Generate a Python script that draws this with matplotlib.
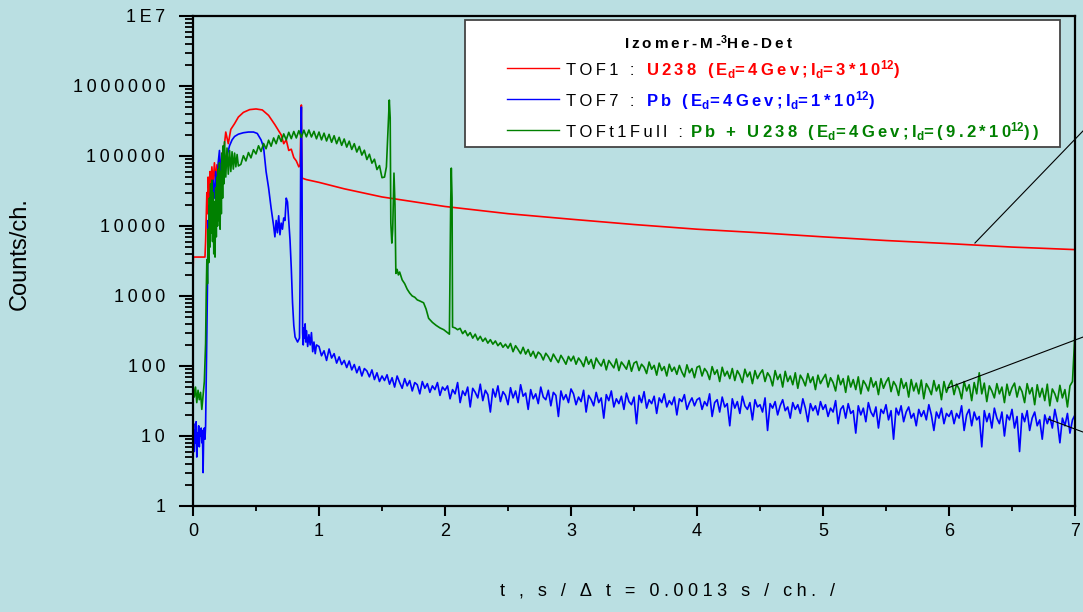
import numpy as np
import matplotlib
matplotlib.use("Agg")
import matplotlib.pyplot as plt
from matplotlib import font_manager
from matplotlib.ft2font import FT2Font
from matplotlib.patches import Rectangle
from matplotlib.ticker import FixedLocator, LogLocator, MultipleLocator, FuncFormatter, NullFormatter

# global formatting
plt.rcParams['font.family'] = ['Liberation Sans', 'DejaVu Sans']
plt.rcParams['mathtext.default'] = 'regular'

BG = '#badfe2'
RED = '#ff0000'
BLUE = '#0000ff'
GREEN = '#008000'

# Origin draws its text letter-spaced: use a thin space between characters if the font has one
_cmap = FT2Font(font_manager.findfont('Liberation Sans')).get_charmap()
GAP = '\u2009' if 0x2009 in _cmap else ''
WIDE = '\u2005' if 0x2005 in _cmap else GAP


def spaced(s, gap=GAP):
    parts = s.split('$')
    for i in range(0, len(parts), 2):
        parts[i] = gap.join(parts[i])
    return '$'.join(parts)


# ---- data ----
# TOF1 : U238
red_t = [0.0, 0.003, 0.095, 0.10, 0.11, 0.115, 0.12, 0.13, 0.135, 0.14,
         0.15, 0.16, 0.17, 0.18, 0.19, 0.20, 0.21, 0.22, 0.23, 0.24,
         0.26, 0.28, 0.30, 0.33, 0.36, 0.40, 0.45, 0.50, 0.55, 0.60, 0.65, 0.70,
         0.72, 0.74, 0.76, 0.78, 0.80, 0.82, 0.84, 0.85, 0.855, 0.86, 0.865, 0.87, 0.90,
         1.0, 1.2, 1.5, 2.0, 2.5, 3.0, 3.5, 4.0, 4.5, 5.0, 5.5, 6.0, 6.5, 7.0]
red_v = [1800, 3600, 3600, 6000, 30000, 15000, 50000, 25000, 60000, 35000,
         70000, 40000, 80000, 45000, 75000, 50000, 90000, 60000, 110000, 100000,
         220000, 150000, 240000, 290000, 360000, 420000, 460000, 470000, 455000, 380000, 280000, 200000,
         150000, 170000, 120000, 125000, 95000, 85000, 70000, 75000, 200000, 535000, 49000, 48000, 46000,
         42000, 34000, 26000, 19000, 15000, 12500, 10500, 9000, 8000, 7000, 6200, 5600, 5000, 4600]

# TOF7 : Pb
blue_t = [0.0, 0.005, 0.01, 0.015, 0.02, 0.025, 0.03, 0.035, 0.04, 0.045, 0.05,
          0.055, 0.06, 0.065, 0.07, 0.075, 0.08, 0.085, 0.09, 0.095, 0.10,
          0.105, 0.11, 0.115, 0.12, 0.125, 0.13, 0.135, 0.14,
          0.15, 0.16, 0.17, 0.18, 0.19, 0.20, 0.21, 0.22,
          0.235, 0.25, 0.27, 0.29, 0.31, 0.33, 0.36, 0.40, 0.44, 0.48, 0.51, 0.54, 0.56, 0.58, 0.60, 0.62, 0.64,
          0.65, 0.66, 0.67, 0.68, 0.69, 0.70, 0.71, 0.72, 0.73, 0.74, 0.75, 0.76, 0.77, 0.78, 0.79, 0.80,
          0.81, 0.82, 0.83,
          0.845, 0.85, 0.855, 0.86, 0.865, 0.87, 0.875, 0.88, 0.885, 0.89, 0.895, 0.90,
          0.91, 0.92, 0.93, 0.94, 0.95, 0.96, 0.97, 0.98]
blue_v = [9, 15, 6, 12, 8, 16, 5, 11, 9, 14, 7,
          12, 10, 13, 8, 12, 3, 11, 13, 9, 14,
          60, 300, 1500, 12000, 6000, 20000, 9000, 30000,
          15000, 45000, 25000, 60000, 30000, 80000, 120000, 60000,
          45000, 70000, 100000, 140000, 170000, 190000, 205000, 215000, 220000, 220000, 210000, 170000, 134000, 60000, 35000, 18000, 10000,
          7000, 12000, 8000, 14000, 7500, 11000, 9000, 13000, 12000, 25000, 22000, 12000, 6300, 2500, 800, 380,
          260, 240, 220,
          250, 2000, 100000, 500000, 60000, 300, 200, 350, 250, 400, 220, 320,
          190, 280, 200, 300, 160, 220, 150, 200]
# noisy tail, one value every 0.02 s from 1.00 to 7.00
blue_tail_t = np.round(np.arange(1.00, 7.001, 0.02), 2)
blue_tail_v = [190, 140, 165, 120, 175, 130, 150, 110, 135, 105, 120,
               95, 118, 88, 105, 80, 98, 72, 92, 85, 70, 88, 64, 80, 60, 72,
               62, 75, 55, 68, 50, 72, 58, 48, 66, 52, 62, 44, 58, 54, 40, 60, 48, 56, 42, 52, 46, 58, 38, 50, 45,
               52, 34, 46, 40, 58, 30, 44, 38, 50, 26, 48, 42, 35, 55, 32, 45, 39, 22, 47, 36,
               52, 31, 43, 38, 28, 49, 35, 44, 30, 54, 37, 41, 24, 46, 34, 40, 29, 50, 36, 33,
               45, 27, 42, 38, 19, 44, 33, 39, 30, 47,
               40, 28, 36, 31, 45, 22, 38, 33, 27, 42, 30, 35, 18, 39, 32, 44, 26, 34, 29, 37,
               24, 41, 31, 28, 36, 15, 38, 30, 43, 25, 33, 29, 37, 21, 35, 30, 40, 26, 32, 28,
               36, 20, 34, 31, 39, 24, 30, 35, 27, 33,
               35, 24, 31, 27, 40, 19, 30, 33, 22, 36, 26, 29, 14, 34, 25, 31, 21, 37, 27, 24,
               30, 17, 33, 26, 28, 22, 35, 12, 29, 25, 31, 20, 27, 33, 23, 26, 18, 30, 24, 28,
               21, 34, 25, 16, 29, 23, 27, 20, 31, 24,
               28, 19, 25, 22, 32, 15, 24, 27, 18, 29, 21, 23, 11, 27, 20, 25, 16, 30, 22, 19,
               26, 13, 24, 21, 28, 17, 23, 9, 25, 20, 27, 16, 22, 26, 18, 21, 14, 24, 19, 23,
               17, 28, 20, 12, 22, 18, 25, 15, 21, 19,
               23, 15, 21, 18, 27, 12, 20, 24, 14, 22, 17, 19, 7, 23, 16, 21, 13, 25, 18, 15,
               22, 10, 20, 17, 24, 13, 19, 6, 21, 16, 23, 12, 18, 22, 14, 17, 9, 20, 15, 19,
               13, 24, 16, 8, 18, 14, 21, 11, 17, 20]

# TOFt1Full : Pb + U238
green_t = [0.0, 0.01, 0.02, 0.03, 0.04, 0.05, 0.06, 0.07, 0.08, 0.09, 0.10,
           0.105, 0.11, 0.115, 0.12, 0.125, 0.13, 0.135, 0.14, 0.145, 0.15,
           0.155, 0.16, 0.165, 0.17, 0.175, 0.18, 0.185, 0.19, 0.195, 0.20,
           0.205, 0.21, 0.215, 0.22, 0.225, 0.23, 0.235, 0.24, 0.245, 0.25,
           0.26, 0.27, 0.28, 0.29, 0.30, 0.31, 0.32, 0.33, 0.34, 0.35, 0.36]
green_v = [55, 36, 50, 30, 45, 33, 42, 24, 38, 60, 210,
           1100, 3300, 1500, 9000, 3000, 25000, 5000, 40000, 8000, 45000,
           6000, 30000, 4000, 22000, 3600, 35000, 7000, 50000, 10000, 65000,
           12000, 80000, 9000, 60000, 15000, 110000, 25000, 140000, 40000, 160000,
           50000, 130000, 55000, 120000, 60000, 115000, 65000, 110000, 70000, 105000, 72000]
# saw-tooth hump, one value every 0.02 s from 0.38 to 1.50
green_saw_t = np.round(np.arange(0.38, 1.5001, 0.02), 2)
green_saw_v = [76000, 101000, 85000, 112000, 94000, 123000, 107000, 140000, 116000, 151000,
               127000, 168000, 138000, 181000, 150000, 196000, 161000, 207000, 170000, 218000,
               177000, 224000, 181000, 230000, 185000, 234000, 188000, 235000, 187000, 225000,
               176000, 220000, 170000, 212000, 164000, 204000, 157000, 195000, 150000, 185000,
               142000, 175000, 134000, 163000, 124000, 150000, 114000, 137000, 103000, 121000,
               89000, 106000, 79000, 90000, 64000, 73000, 49000]
green_spk_t = [1.52, 1.535, 1.55, 1.558, 1.565, 1.57, 1.578, 1.585, 1.595, 1.603, 1.61,
               1.62, 1.63, 1.64, 1.66, 1.68, 1.70, 1.72, 1.74, 1.76, 1.78, 1.80,
               1.83, 1.85, 1.87, 1.90, 1.93, 1.96, 1.99, 2.02, 2.035, 2.045, 2.05, 2.056,
               2.06, 2.08, 2.10]
green_spk_v = [50000, 70000, 300000, 630000, 350000, 11000, 5700, 9000, 57000, 20000, 2100,
               2400, 2000, 2200, 1700, 1500, 1250, 1100, 1000, 960, 880, 850,
               800, 650, 480, 420, 380, 350, 330, 300, 285, 20000, 67000, 25000,
               360, 350, 330]
# noisy tail, one value every 0.02 s from 2.12 to 7.00
green_tail_t = np.round(np.arange(2.12, 7.001, 0.02), 2)
green_tail_v = [345, 290, 320, 270, 300, 250, 285, 235, 265, 225, 250, 212, 238, 205, 228, 195, 215, 185, 205, 180,
                210, 160, 195, 172, 150, 185, 148, 172, 138, 162, 130, 158, 146, 122, 152, 136, 116, 148, 128, 112,
                142, 124, 106, 137, 118,
                138, 106, 130, 116, 98, 135, 106, 124, 92, 130, 112, 100, 124, 88, 120, 106, 94, 126, 86, 114,
                102, 90, 120, 84, 110,
                116, 86, 106, 96, 78, 114, 90, 102, 74, 110, 86, 98, 72, 106, 84, 96, 76, 102, 82, 70,
                104, 80, 92, 68, 96,
                100, 72, 92, 82, 64, 98, 76, 88, 60, 96, 72, 84, 66, 92, 62, 86, 74, 58, 90, 70,
                82, 56, 86, 66, 78,
                88, 60, 80, 70, 52, 86, 64, 76, 50, 84, 60, 72, 54, 80, 48, 74, 64, 52, 78, 58,
                70, 46, 74, 56, 66,
                76, 50, 68, 58, 44, 74, 54, 66, 42, 72, 50, 64, 46, 70, 40, 62, 54, 44, 68, 50,
                60, 39, 66, 48, 59,
                68, 43, 60, 52, 38, 66, 48, 58, 36, 64, 44, 57, 40, 63, 34, 56, 48, 39, 62, 44,
                54, 33, 60, 42, 53,
                62, 39, 55, 47, 34, 60, 44, 54, 32, 58, 40, 80, 40, 57, 31, 52, 44, 35, 56, 40,
                50, 30, 55, 38, 49,
                57, 36, 51, 43, 30, 56, 40, 49, 28, 54, 36, 48, 32, 55, 27, 47, 40, 31, 53, 35,
                46, 26, 52, 60, 300]

# pointer lines drawn from the curves out past the right axis
ptr_from = [(6.206, 5716), (5.99, 48.5), (6.786, 17.5)]
ptr_to = [(7.063, 227500), (7.063, 259), (7.063, 11.4)]

y_ticks = [1, 10, 100, 1000, 10000, 100000, 1000000, 10000000]

# ---- figure ----
fig = plt.figure(figsize=(10.83, 6.12), dpi=100)
fig.patch.set_facecolor(BG)
ax = fig.add_axes([193 / 1083, 1 - 506 / 612, 882 / 1083, 490 / 612])
ax.set_facecolor(BG)

ax.plot(red_t, red_v, color=RED, lw=1.2)
ax.plot(np.concatenate([blue_t, blue_tail_t]), blue_v + blue_tail_v, color=BLUE, lw=1.2)
ax.plot(np.concatenate([green_t, green_saw_t, green_spk_t, green_tail_t]),
        green_v + green_saw_v + green_spk_v + green_tail_v, color=GREEN, lw=1.2)

for (x0, y0), (x1, y1) in zip(ptr_from, ptr_to):
    ax.plot([x0, x1], [y0, y1], color='black', lw=0.8, clip_on=False, zorder=6)

ax.set_yscale('log')
ax.set_xlim(0, 7)
ax.set_ylim(1, 1e7)

ax.yaxis.set_major_locator(FixedLocator(y_ticks))
ax.yaxis.set_minor_locator(LogLocator(base=10, subs=range(2, 10), numticks=50))
ax.yaxis.set_minor_formatter(NullFormatter())
ax.yaxis.set_major_formatter(FuncFormatter(
    lambda v, pos: spaced('1E7') if v >= 1e7 else spaced(f'{v:.0f}')))
ax.xaxis.set_major_locator(MultipleLocator(1))
ax.xaxis.set_minor_locator(MultipleLocator(0.5))
ax.xaxis.set_major_formatter(FuncFormatter(lambda v, pos: f'{v:.0f}'))

for side in ['left', 'right', 'top', 'bottom']:
    ax.spines[side].set_linewidth(1.6)
ax.tick_params(axis='y', which='major', direction='out', length=10, width=1.5, labelsize=13, pad=10)
ax.tick_params(axis='y', which='minor', direction='out', length=5.5, width=1.3)
ax.tick_params(axis='x', which='major', direction='out', length=7, width=1.5, labelsize=13, pad=5)
ax.tick_params(axis='x', which='minor', direction='out', length=3.6, width=1.3)

ax.set_ylabel('Counts/ch.', fontsize=17)
ax.yaxis.set_label_coords(-0.184, 0.516)
ax.set_xlabel(spaced('t , s / \u0394 t = 0.0013 s / ch. /', WIDE), fontsize=13)
ax.xaxis.set_label_coords(0.5385, -0.157)

# ---- legend box, Origin style ----
ax.add_patch(Rectangle((0.3084, 0.7327), 0.983 - 0.3084, 0.9918 - 0.7327, transform=ax.transAxes,
                       facecolor='white', edgecolor='#444444', lw=1.3, zorder=7))
ax.text(0.585, 0.9327, spaced('Izomer-M-$^3$He-Det'), transform=ax.transAxes, ha='center',
        va='baseline', fontsize=11, fontweight='bold', zorder=8)

legend_rows = [
    ('TOF1 : ', 'U238 (E$_d$=4Gev;I$_d$=3*10$^{12}$)', RED, 0.8939, 0.8796, 0.5136),
    ('TOF7 : ', 'Pb (E$_d$=4Gev;I$_d$=1*10$^{12}$)', BLUE, 0.8306, 0.8163, 0.5136),
    ('TOFt1Full : ', 'Pb + U238 (E$_d$=4Gev;I$_d$=(9.2*10$^{12}$))', GREEN, 0.7673, 0.7531, 0.5635),
]
for name, desc, col, y_line, y_text, x_desc in legend_rows:
    ax.plot([0.356, 0.415], [y_line, y_line], color=col, lw=1.0, transform=ax.transAxes, zorder=8)
    ax.text(0.4229, y_text, spaced(name), transform=ax.transAxes, va='baseline',
            fontsize=12, color='black', zorder=8)
    ax.text(x_desc, y_text, spaced(desc), transform=ax.transAxes, va='baseline',
            fontsize=12, fontweight='bold', color=col, zorder=8)

fig.savefig('out.png', dpi=100, facecolor=fig.get_facecolor())
